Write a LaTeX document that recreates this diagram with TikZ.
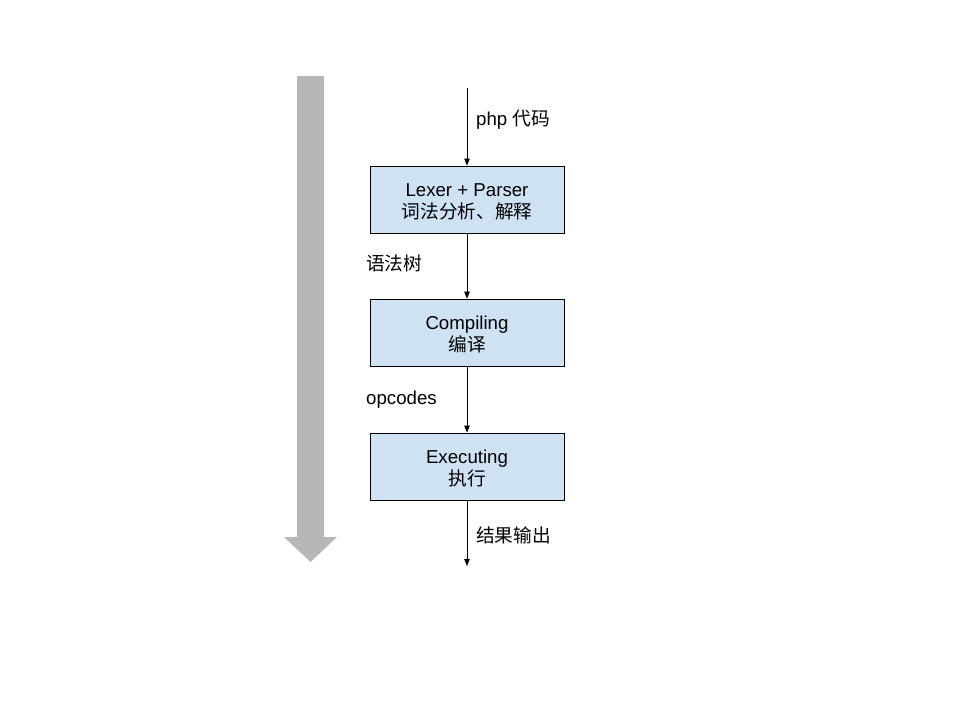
\documentclass[tikz,border=0pt]{standalone}
\usepackage{fontspec}
\setmainfont{Liberation Sans}
\newfontfamily\cjk{Noto Sans CJK SC}
\usetikzlibrary{arrows.meta}
\definecolor{boxfill}{HTML}{CFE2F3}
\definecolor{bigarrow}{HTML}{B7B7B7}
\begin{document}
\begin{tikzpicture}[x=1pt,y=-1pt,
  stagebox/.style={draw=black,line width=0.8pt,fill=boxfill,minimum width=194pt,minimum height=67pt,inner sep=0pt,align=center,font=\fontsize{18.67}{22}\selectfont},
  lbl/.style={inner sep=0pt,font=\fontsize{18.67}{22}\selectfont},
  flow/.style={line width=0.8pt,-{Triangle[length=7pt,width=5.5pt]}}]
\useasboundingbox (0,0) rectangle (960,720);
\fill[bigarrow] (297,76) -- (324,76) -- (324,537) -- (337,537) -- (310.5,562) -- (284,537) -- (297,537) -- cycle;
\node[stagebox] (lex) at (467,199.5) {};
\node[stagebox] (comp) at (467,332.5) {};
\node[stagebox] (exec) at (467,466.5) {};
\node[lbl,align=center] (t1) at ([yshift=-2pt]lex.center) {Lexer + Parser\\{\cjk 词法分析、解释}};
\node[lbl,align=center] (t2) at ([yshift=-2pt]comp.center) {Compiling\\{\cjk 编译}};
\node[lbl,align=center] (t3) at ([yshift=-2pt]exec.center) {Executing\\{\cjk 执行}};
\coordinate (start) at (467,88);
\coordinate (end) at (467,566);
\draw[flow] (start) -- (lex);
\draw[flow] (lex) -- (comp);
\draw[flow] (comp) -- (exec);
\draw[flow] (exec) -- (end);
\node[lbl,anchor=west] (l1) at (476,120) {php {\cjk 代码}};
\node[lbl,anchor=west] (l2) at (366,263) {\cjk 语法树};
\node[lbl,anchor=west] (l3) at (366,400) {opcodes};
\node[lbl,anchor=west] (l4) at (476,535) {\cjk 结果输出};
\end{tikzpicture}
\end{document}
